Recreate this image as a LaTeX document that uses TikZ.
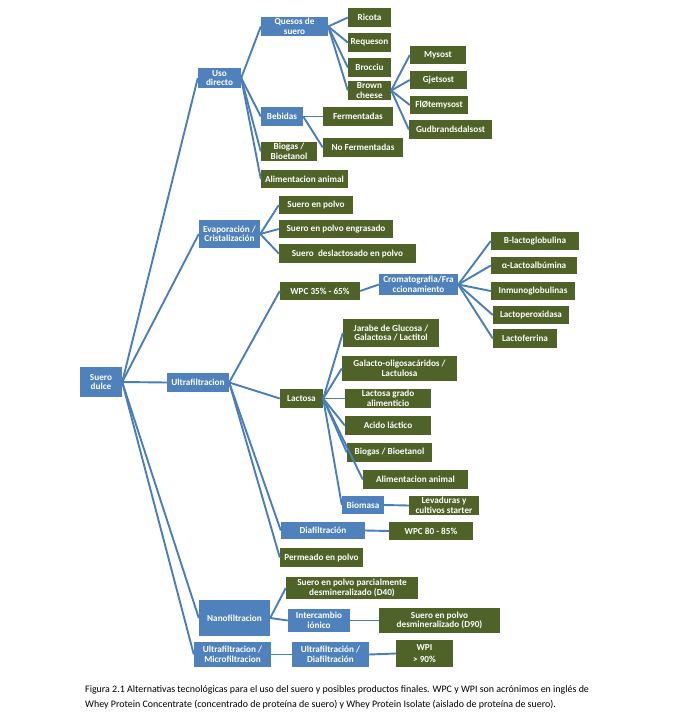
\documentclass[tikz,border=0pt]{standalone}
\usepackage{fontspec}
\setmainfont{Carlito}
\usetikzlibrary{positioning}
\definecolor{boxblue}{RGB}{79,129,189}
\definecolor{boxgreen}{RGB}{79,98,40}
\definecolor{linkblue}{RGB}{74,126,187}

\begin{document}
\begin{tikzpicture}[x=1pt,y=-1pt,
  box/.style={inner sep=0pt,align=center,text=white,font=\bfseries\fontsize{9.2}{9.5}\selectfont},
  bl/.style={box,fill=boxblue},
  gr/.style={box,fill=boxgreen},
  sz/.style 2 args={minimum width=#1,minimum height=#2},
  link/.style={linkblue,line width=1.9pt}]
\useasboundingbox (0,0) rectangle (680,715);
\node[bl,sz={42}{30}] (dulce) at (101,382) {Suero\\dulce};
\node[bl,sz={43}{20}] (uso) at (219.5,78) {Uso\\directo};
\node[bl,sz={67}{19}] (quesos) at (294.5,26.5) {Quesos de\\suero};
\node[bl,sz={42}{19}] (bebidas) at (282,116.5) {Bebidas};
\node[bl,sz={61}{28}] (evap) at (229.5,234) {Evaporación /\\Cristalización};
\node[bl,sz={79}{21}] (croma) at (418.5,284.5) {Cromatografia/Fra\\ccionamiento};
\node[bl,sz={62}{19}] (ultra) at (198,382.5) {Ultrafiltracion};
\node[bl,sz={42}{18}] (biomasa) at (363,505) {Biomasa};
\node[bl,sz={84}{17}] (diaf) at (323,530.5) {Diafiltración};
\node[bl,sz={71}{36}] (nano) at (234.5,618) {Nanofiltracion};
\node[bl,sz={62}{23}] (interc) at (319,620.5) {Intercambio\\iónico};
\node[bl,sz={77}{25}] (ultramicro) at (232.5,654.5) {Ultrafiltracion /\\Microfiltracion};
\node[bl,sz={77}{25}] (ultradia) at (330.5,654.5) {Ultrafiltración /\\Diafiltración};
\node[gr,sz={43}{19}] (ricota) at (369.5,17.5) {Ricota};
\node[gr,sz={43}{19}] (requeson) at (369.5,42.5) {Requeson};
\node[gr,sz={43}{19}] (brocciu) at (369.5,67.5) {Brocciu};
\node[gr,sz={43}{19}] (brown) at (369.5,90.5) {Brown\\cheese};
\node[gr,sz={56}{18}] (mysost) at (438,55) {Mysost};
\node[gr,sz={57}{18}] (gjetsost) at (438.5,80) {Gjetsost};
\node[gr,sz={58}{18}] (flote) at (439,105) {FlØtemysost};
\node[gr,sz={83}{19}] (gudbr) at (450.5,129.5) {Gudbrandsdalsost};
\node[gr,sz={70}{19}] (ferm) at (358,116.5) {Fermentadas};
\node[gr,sz={80}{19}] (noferm) at (363,147.5) {No Fermentadas};
\node[gr,sz={56}{19}] (biogasA) at (289,151.5) {Biogas /\\Bioetanol};
\node[gr,sz={87}{18}] (alimA) at (304.5,179) {Alimentacion animal};
\node[gr,sz={74}{18}] (polvo) at (316,205) {Suero en polvo};
\node[gr,sz={114}{18}] (engras) at (336,229) {Suero en polvo engrasado};
\node[gr,sz={137}{19}] (deslac) at (347.5,253.5) {Suero~ deslactosado en polvo};
\node[gr,sz={80}{18}] (wpc35) at (320,291) {WPC 35\% - 65\%};
\node[gr,sz={88}{18}] (blacto) at (535,241) {B-lactoglobulina};
\node[gr,sz={86}{17}] (alacto) at (534,265.5) {α-Lactoalbúmina};
\node[gr,sz={84}{18}] (inmuno) at (533,291) {Inmunoglobulinas};
\node[gr,sz={76}{18}] (lperox) at (531,315) {Lactoperoxidasa};
\node[gr,sz={64}{19}] (lferr) at (525,338.5) {Lactoferrina};
\node[gr,sz={43}{19}] (lactosa) at (301.5,398.5) {Lactosa};
\node[gr,sz={96}{28}] (jarabe) at (391,333) {Jarabe de Glucosa /\\Galactosa / Lactitol};
\node[gr,sz={115}{25}] (galacto) at (399.5,368.5) {Galacto-oligosacáridos /\\Lactulosa};
\node[gr,sz={86}{19}] (lgrado) at (388,398.5) {Lactosa grado\\alimenticio};
\node[gr,sz={86}{19}] (acido) at (388,425.5) {Acido láctico};
\node[gr,sz={85}{19}] (biogasB) at (389.5,452.5) {Biogas / Bioetanol};
\node[gr,sz={105}{19}] (alimB) at (415.5,479.5) {Alimentacion animal};
\node[gr,sz={70}{19}] (levad) at (444,505.5) {Levaduras y\\cultivos starter};
\node[gr,sz={84}{18}] (wpc80) at (431,531) {WPC 80 - 85\%};
\node[gr,sz={83}{19}] (permeado) at (321.5,557.5) {Permeado en polvo};
\node[gr,sz={132}{22}] (d40) at (352,588) {Suero en polvo parcialmente\\desmineralizado (D40)};
\node[gr,sz={121}{25}] (d90) at (439.5,620.5) {Suero en polvo\\desmineralizado (D90)};
\node[gr,sz={57}{27}] (wpi) at (424.5,653.5) {WPI\\[3pt]> 90\%};
\foreach \a/\b in {dulce/uso,dulce/evap,dulce/ultra,dulce/nano,dulce/ultramicro,
  uso/quesos,uso/bebidas,uso/biogasA,uso/alimA,
  quesos/ricota,quesos/requeson,quesos/brocciu,quesos/brown,
  brown/mysost,brown/gjetsost,brown/flote,brown/gudbr,
  bebidas/ferm,bebidas/noferm,
  evap/polvo,evap/engras,evap/deslac,
  ultra/wpc35,ultra/lactosa,ultra/diaf,ultra/permeado,
  wpc35/croma,croma/blacto,croma/alacto,croma/inmuno,croma/lperox,croma/lferr,
  lactosa/jarabe,lactosa/galacto,lactosa/lgrado,lactosa/acido,lactosa/biogasB,lactosa/alimB,lactosa/biomasa,
  biomasa/levad,diaf/wpc80,nano/d40,nano/interc,interc/d90,ultramicro/ultradia,ultradia/wpi}
  \draw[link] (\a.east) -- (\b.west);
\node[anchor=base west,align=left,inner sep=0pt,font=\fontsize{9.95}{15}\selectfont] (caption) at (85,707)
  {Figura 2.1 Alternativas tecnológicas para el uso del suero y posibles productos finales. WPC y WPI son acrónimos en inglés de\\
   Whey Protein Concentrate (concentrado de proteína de suero) y Whey Protein Isolate (aislado de proteína de suero).};
\end{tikzpicture}
\end{document}
